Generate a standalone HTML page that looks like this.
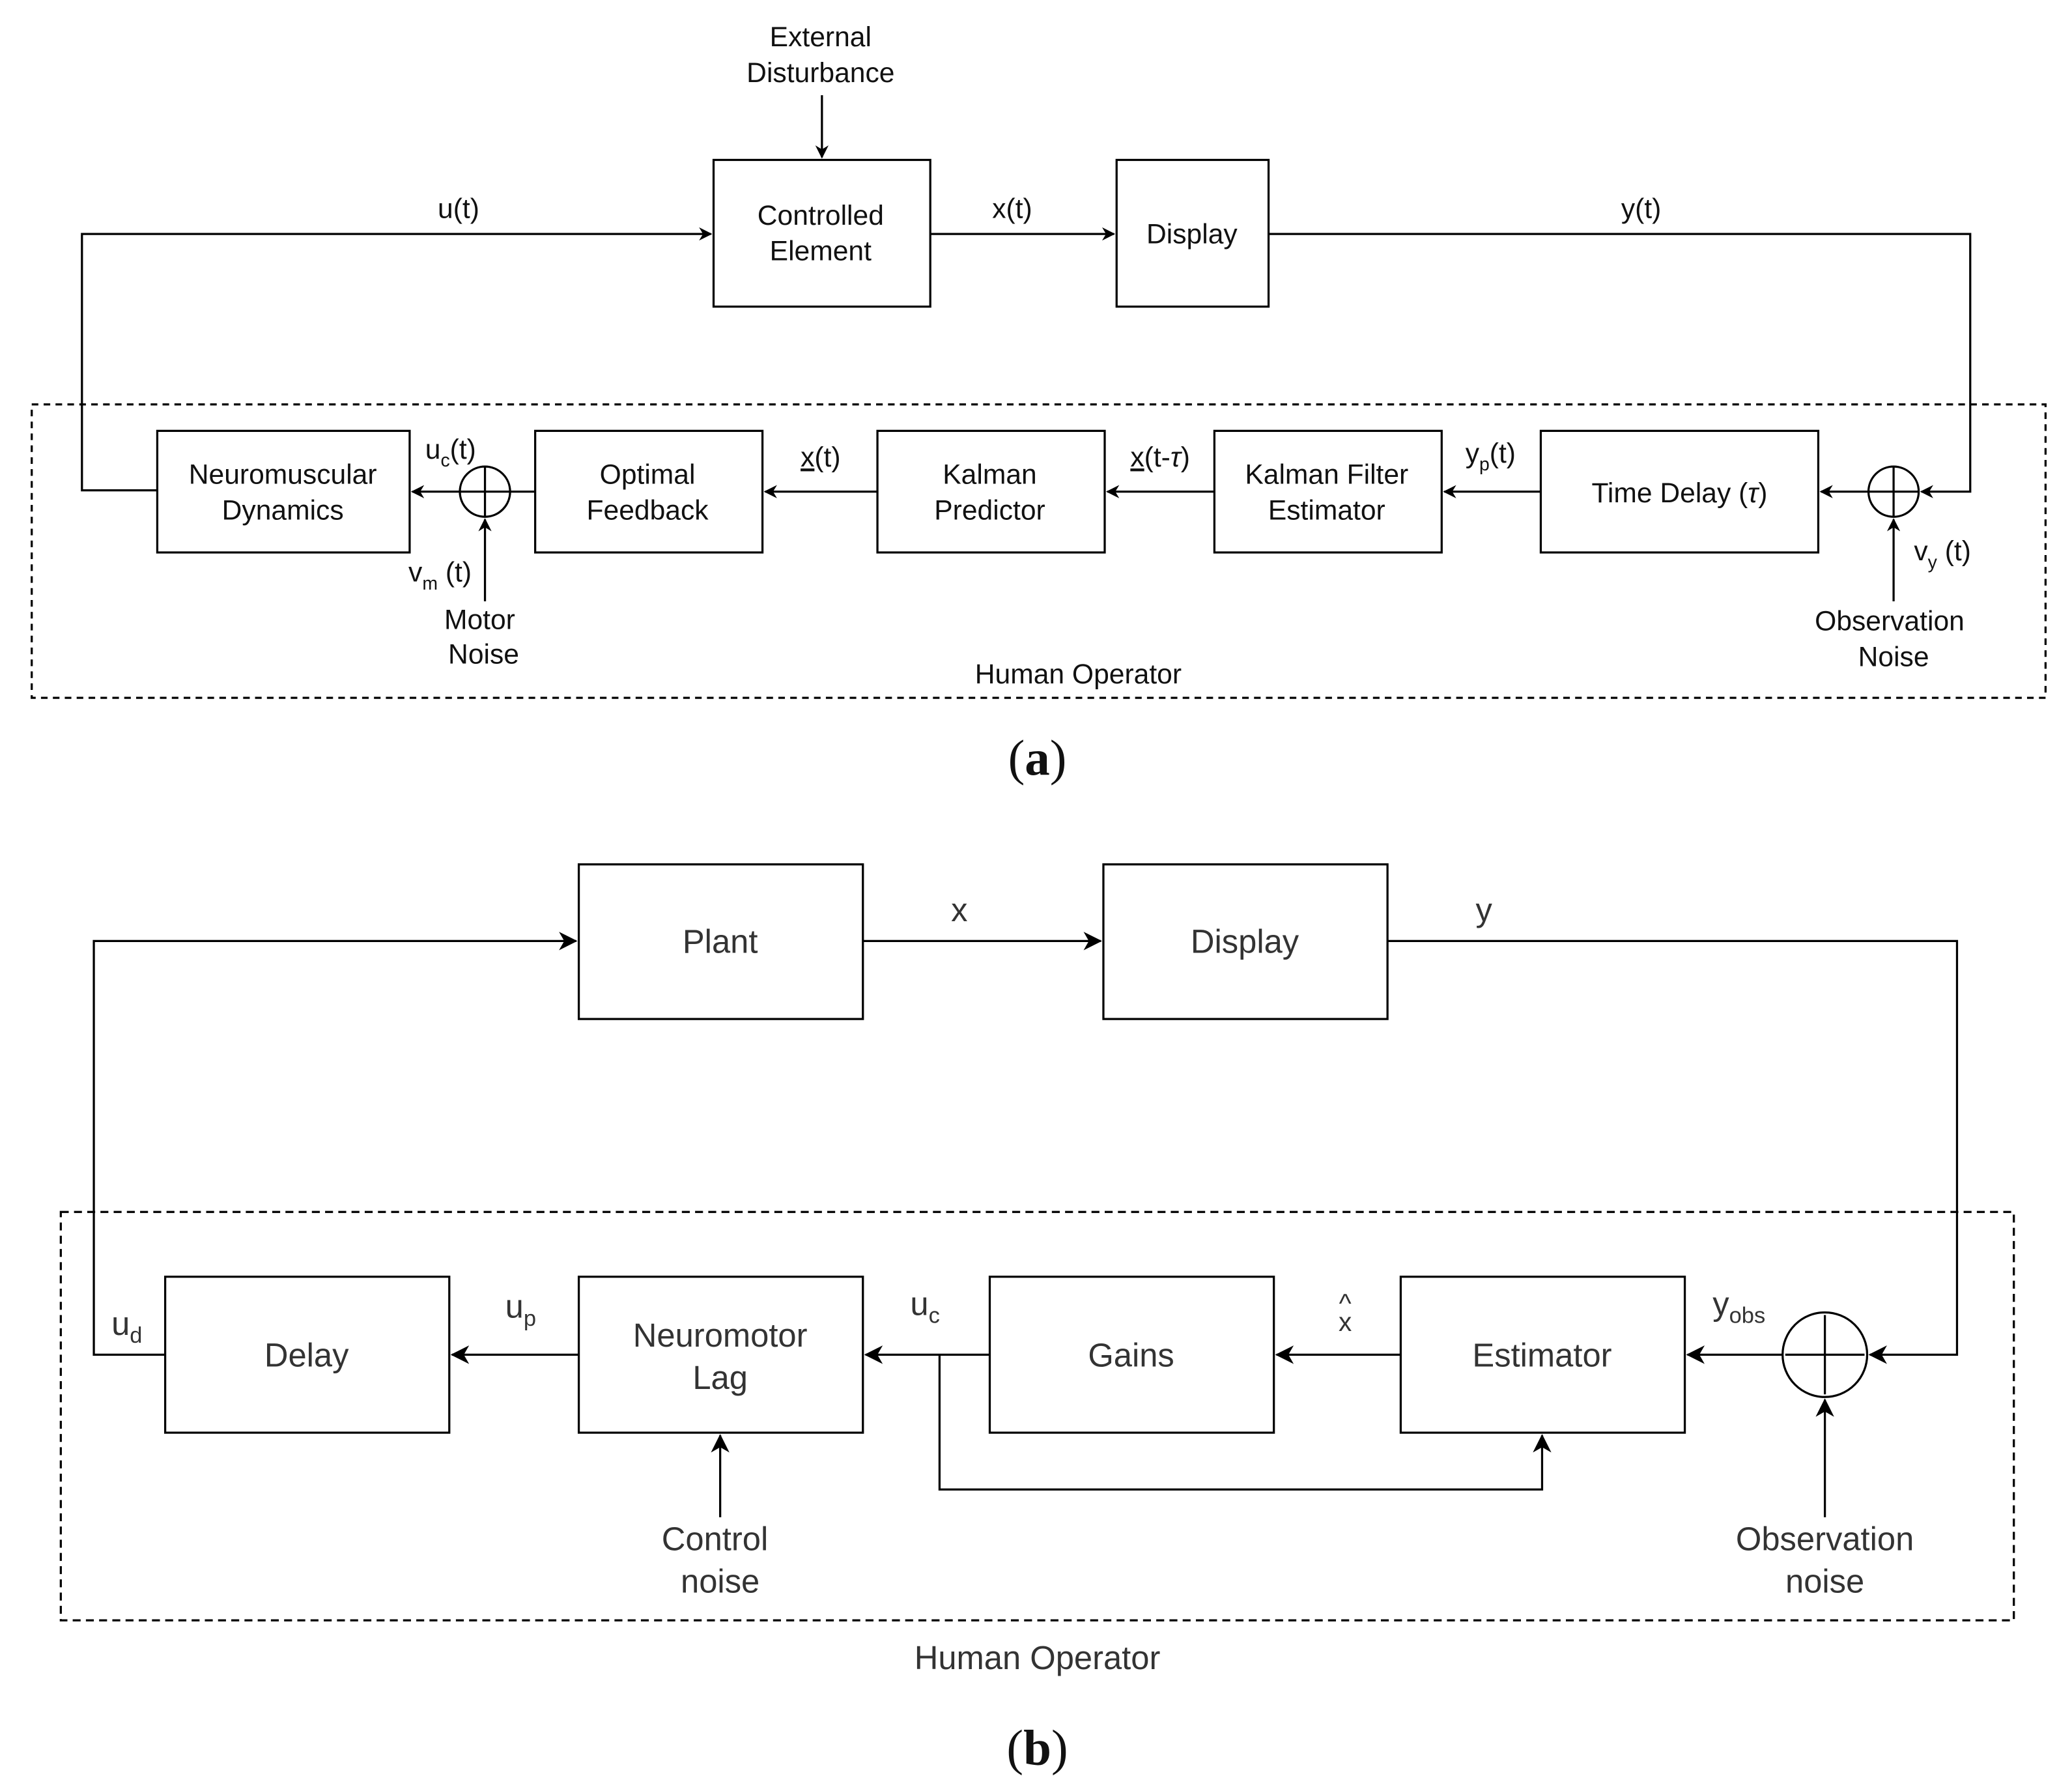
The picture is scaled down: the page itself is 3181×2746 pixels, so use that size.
<!DOCTYPE html>
<html><head><meta charset="utf-8"><style>
html,body{margin:0;padding:0;background:#fff;}
svg{display:block;}
text{font-family:"Liberation Sans",sans-serif;fill:#111;}
.a{font-size:21px;text-anchor:middle;}
.b{font-size:25px;text-anchor:middle;fill:#333;}
.s{font-size:14px;}
.sb{font-size:17px;}
</style></head><body>
<svg width="3181" height="2746" viewBox="0 0 1568 1353.6" xmlns="http://www.w3.org/2000/svg">
<defs>
<marker id="ar" markerWidth="10" markerHeight="10" refX="9" refY="5" orient="auto" markerUnits="userSpaceOnUse"><path d="M0,0 L10,5 L0,10 L3,5 z" fill="#000"/></marker>
<marker id="ar2" markerWidth="14" markerHeight="14" refX="13" refY="7" orient="auto" markerUnits="userSpaceOnUse"><path d="M0,0 L14,7 L0,14 L4,7 z" fill="#000"/></marker>
</defs>
<g fill="none" stroke="#000" stroke-width="1.6">
<!-- (a) -->
<rect x="24" y="306" width="1524" height="222" stroke-dasharray="5,4"/>
<rect x="540" y="121" width="164" height="111"/>
<rect x="845" y="121" width="115" height="111"/>
<rect x="119" y="326" width="191" height="92"/>
<rect x="405" y="326" width="172" height="92"/>
<rect x="664" y="326" width="172" height="92"/>
<rect x="919" y="326" width="172" height="92"/>
<rect x="1166" y="326" width="210" height="92"/>
<circle cx="367" cy="372" r="19"/><path d="M348,372h38M367,353v38"/>
<circle cx="1433" cy="372" r="19"/><path d="M1414,372h38M1433,353v38"/>
<path d="M622,72V119" marker-end="url(#ar)"/>
<path d="M119,371H62V177H538" marker-end="url(#ar)"/>
<path d="M704,177H843" marker-end="url(#ar)"/>
<path d="M960,177H1491V372H1454" marker-end="url(#ar)"/>
<path d="M348,372H312" marker-end="url(#ar)"/>
<path d="M405,372H386"/>
<path d="M664,372H579" marker-end="url(#ar)"/>
<path d="M919,372H838" marker-end="url(#ar)"/>
<path d="M1166,372H1093" marker-end="url(#ar)"/>
<path d="M1414,372H1378" marker-end="url(#ar)"/>
<path d="M367,455V393" marker-end="url(#ar)"/>
<path d="M1433,455V393" marker-end="url(#ar)"/>
<!-- (b) -->
<rect x="46" y="917" width="1478" height="309" stroke-dasharray="6,4"/>
<rect x="438" y="654" width="215" height="117"/>
<rect x="835" y="654" width="215" height="117"/>
<rect x="125" y="966" width="215" height="118"/>
<rect x="438" y="966" width="215" height="118"/>
<rect x="749" y="966" width="215" height="118"/>
<rect x="1060" y="966" width="215" height="118"/>
<circle cx="1381" cy="1025" r="32"/><path d="M1351,1025h60M1381,995v60"/>
<path d="M125,1025H71V712H436" marker-end="url(#ar2)"/>
<path d="M653,712H833" marker-end="url(#ar2)"/>
<path d="M1050,712H1481V1025H1415" marker-end="url(#ar2)"/>
<path d="M438,1025H342" marker-end="url(#ar2)"/>
<path d="M749,1025H655" marker-end="url(#ar2)"/>
<path d="M1060,1025H966" marker-end="url(#ar2)"/>
<path d="M1349,1025H1277" marker-end="url(#ar2)"/>
<path d="M711,1025V1127H1167V1086" marker-end="url(#ar2)"/>
<path d="M545,1148V1086" marker-end="url(#ar2)"/>
<path d="M1381,1148V1059" marker-end="url(#ar2)"/>
</g>
<!-- (a) text -->
<text class="a" x="621" y="35">External</text>
<text class="a" x="621" y="62">Disturbance</text>
<text class="a" x="621" y="170">Controlled</text>
<text class="a" x="621" y="197">Element</text>
<text class="a" x="902" y="184">Display</text>
<text class="a" x="347" y="165">u(t)</text>
<text class="a" x="766" y="165">x(t)</text>
<text class="a" x="1242" y="165">y(t)</text>
<text class="a" x="214" y="366">Neuromuscular</text>
<text class="a" x="214" y="393">Dynamics</text>
<text class="a" x="490" y="366">Optimal</text>
<text class="a" x="490" y="393">Feedback</text>
<text class="a" x="749" y="366">Kalman</text>
<text class="a" x="749" y="393">Predictor</text>
<text class="a" x="1004" y="366">Kalman Filter</text>
<text class="a" x="1004" y="393">Estimator</text>
<text class="a" x="1271" y="380">Time Delay (<tspan font-style="italic">τ</tspan>)</text>
<text class="a" x="341" y="347">u<tspan class="s" dy="6">c</tspan><tspan dy="-6">(t)</tspan></text>
<text class="a" x="621" y="353"><tspan text-decoration="underline">x</tspan>(t)</text>
<text class="a" x="878" y="353"><tspan text-decoration="underline">x</tspan>(t-<tspan font-style="italic">τ</tspan>)</text>
<text class="a" x="1128" y="350">y<tspan class="s" dy="6">p</tspan><tspan dy="-6">(t)</tspan></text>
<text class="a" x="333" y="440">v<tspan class="s" dy="6">m</tspan><tspan dy="-6"> (t)</tspan></text>
<text class="a" x="1470" y="424">v<tspan class="s" dy="6">y</tspan><tspan dy="-6"> (t)</tspan></text>
<text class="a" x="363" y="476">Motor</text>
<text class="a" x="366" y="502">Noise</text>
<text class="a" x="1430" y="477">Observation</text>
<text class="a" x="1433" y="504">Noise</text>
<text class="a" x="816" y="517">Human Operator</text>
<text x="785" y="586" text-anchor="middle" style="font-family:'Liberation Serif',serif;font-size:38px;">(<tspan font-weight="bold">a</tspan>)</text>
<!-- (b) text -->
<text class="b" x="545" y="721">Plant</text>
<text class="b" x="942" y="721">Display</text>
<text class="b" x="726" y="697">x</text>
<text class="b" x="1123" y="697">y</text>
<text class="b" x="232" y="1034">Delay</text>
<text class="b" x="545" y="1019">Neuromotor</text>
<text class="b" x="545" y="1051">Lag</text>
<text class="b" x="856" y="1034">Gains</text>
<text class="b" x="1167" y="1034">Estimator</text>
<text class="b" x="96" y="1010">u<tspan class="sb" dy="6">d</tspan></text>
<text class="b" x="394" y="997">u<tspan class="sb" dy="6">p</tspan></text>
<text class="b" x="700" y="995">u<tspan class="sb" dy="6">c</tspan></text>
<text class="b" x="1018" y="993" style="font-size:20px">^</text>
<text class="b" x="1018" y="1007" style="font-size:20px">x</text>
<text class="b" x="1316" y="995">y<tspan class="sb" dy="6">obs</tspan></text>
<text class="b" x="541" y="1173">Control</text>
<text class="b" x="545" y="1205">noise</text>
<text class="b" x="1381" y="1173">Observation</text>
<text class="b" x="1381" y="1205">noise</text>
<text class="b" x="785" y="1263">Human Operator</text>
<text x="785" y="1335" text-anchor="middle" style="font-family:'Liberation Serif',serif;font-size:38px;">(<tspan font-weight="bold">b</tspan>)</text>
</svg>
</body></html>
